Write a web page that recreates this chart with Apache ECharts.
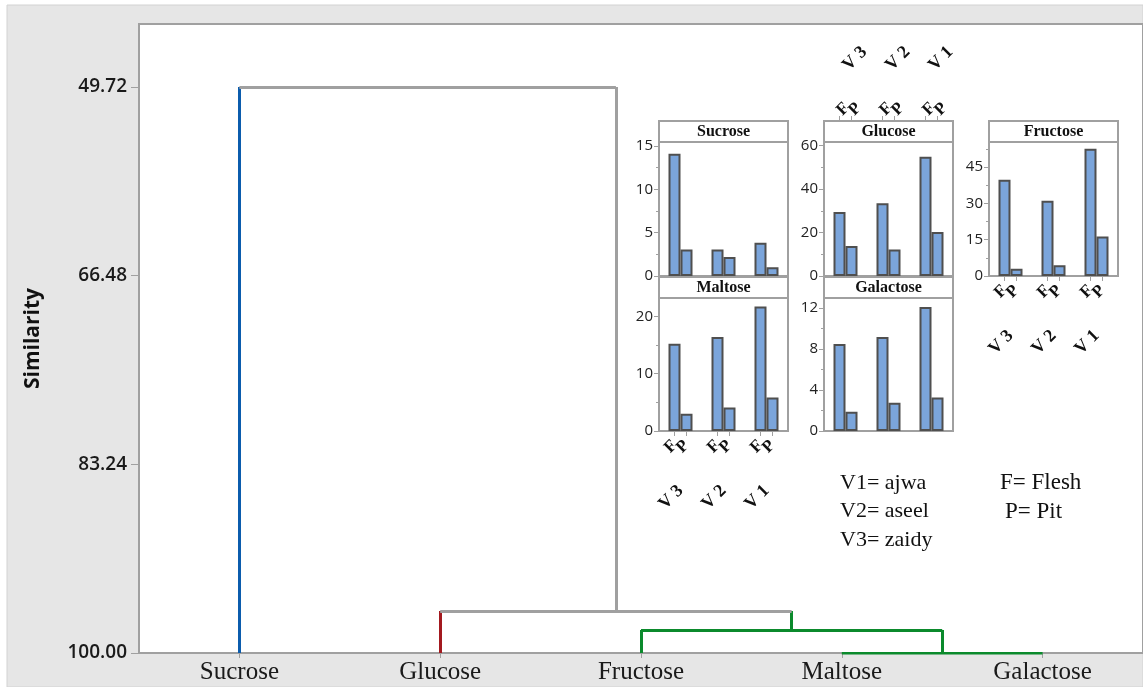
<!DOCTYPE html>
<html>
<head>
<meta charset="utf-8">
<title>Dendrogram - Similarity</title>
<script src="https://cdn.jsdelivr.net/npm/echarts@6/dist/echarts.min.js"></script>
<style>
	html, body { margin: 0; padding: 0; background: #fff; }
	#main { width: 1143px; height: 687px; }
</style>
</head>
<body>
<div id="main"></div>
<script>
// dendrogram data
var leaves = ['Sucrose', 'Glucose', 'Fructose', 'Maltose', 'Galactose'];
var leafCluster = [0, 1, 2, 2, 2];
var clusterColors = ['#0b5cad', '#a3191f', '#0b8a2c'];
var linkGray = '#a0a0a0';
// children of each merge, ids >= 5 are earlier merges
var merges = [[3, 4], [2, 5], [1, 6], [0, 7]];
var mergeLevels = [100, 97.95, 96.27, 49.72];
var simTicks = [49.72, 66.48, 83.24, 100.00];

// inset bar charts, order V3, V2, V1
var varieties = ['V3', 'V2', 'V1'];
var parts = ['F', 'P'];
var sucroseF = [14.1, 3.05, 3.85];
var sucroseP = [3.05, 2.2, 1.0];
var glucoseF = [29.5, 33.5, 54.9];
var glucoseP = [13.8, 12.2, 20.3];
var fructoseF = [39.8, 31.1, 52.6];
var fructoseP = [3.0, 4.4, 16.3];
var maltoseF = [15.2, 16.4, 21.7];
var maltoseP = [3.0, 4.1, 5.85];
var galactoseF = [8.48, 9.16, 12.1];
var galactoseP = [1.87, 2.75, 3.26];

var legendLeft = ['V1= ajwa', 'V2= aseel', 'V3= zaidy'];
var legendRight = ['F= Flesh', 'P= Pit'];

var serif = '"Liberation Serif", "Times New Roman", serif';
var sans = '"Open Sans", "Noto Sans", sans-serif';

// build dendrogram segments
var nodes = [];
leaves.forEach(function (name, i) {
	nodes.push({x: i, h: 100, color: clusterColors[leafCluster[i]]});
});
var segs = [];
merges.forEach(function (m, k) {
	var a = nodes[m[0]], b = nodes[m[1]];
	var h = mergeLevels[k];
	var c = (a.color === b.color && a.color !== linkGray) ? a.color : linkGray;
	if (a.h !== h) segs.push({coords: [[a.x, a.h], [a.x, h]], lineStyle: {color: a.color}});
	if (b.h !== h) segs.push({coords: [[b.x, b.h], [b.x, h]], lineStyle: {color: b.color}});
	segs.push({coords: [[a.x, h], [b.x, h]], lineStyle: {color: c}});
	nodes.push({x: (a.x + b.x) / 2, h: h, color: c});
});

var grids = [{
	left: 139, top: 24, width: 1004, height: 629,
	show: true, backgroundColor: '#fff', borderColor: '#a0a0a0', borderWidth: 2
}];
var xAxes = [{
	type: 'value', gridIndex: 0, min: -0.5, max: 4.5,
	axisLine: {onZero: false, lineStyle: {color: '#a0a0a0', width: 1}},
	axisTick: {customValues: [0, 1, 2, 3, 4], length: 5, lineStyle: {color: '#a0a0a0'}},
	axisLabel: {
		customValues: [0, 1, 2, 3, 4], margin: 7,
		formatter: function (v) { return leaves[Math.round(v)]; },
		fontFamily: serif, fontSize: 25, color: '#1a1a1a'
	},
	splitLine: {show: false}
}];
var yAxes = [{
	type: 'value', gridIndex: 0, inverse: true, min: 44.12, max: 100,
	name: 'Similarity', nameLocation: 'middle', nameGap: 95,
	nameTextStyle: {fontFamily: sans, fontSize: 21, fontWeight: 'bold', color: '#111'},
	axisLine: {show: true, onZero: false, lineStyle: {color: '#a0a0a0', width: 1}},
	axisTick: {show: true, customValues: simTicks, length: 8, lineStyle: {color: '#a0a0a0'}},
	axisLabel: {
		customValues: simTicks, margin: 12,
		formatter: function (v) { return v.toFixed(2); },
		fontFamily: sans, fontSize: 19, fontWeight: 600, color: '#1a1a1a'
	},
	splitLine: {show: false}
}];
var series = [{
	type: 'lines', coordinateSystem: 'cartesian2d', xAxisIndex: 0, yAxisIndex: 0,
	silent: true, z: 3,
	lineStyle: {width: 3, opacity: 1, curveness: 0},
	data: segs
}];

var PW = 129, STRIP = 21, BARW = 12;
var panels = [
	{name: 'Sucrose', F: sucroseF, P: sucroseP, max: 15.46, step: 5, left: 659, top: 142, h: 134, side: null},
	{name: 'Glucose', F: glucoseF, P: glucoseP, max: 61.7, step: 20, left: 824, top: 142, h: 134, side: 'top'},
	{name: 'Fructose', F: fructoseF, P: fructoseP, max: 55.4, step: 15, left: 989, top: 142, h: 134, side: 'bottom'},
	{name: 'Maltose', F: maltoseF, P: maltoseP, max: 23.2, step: 10, left: 659, top: 298, h: 133, side: 'bottom'},
	{name: 'Galactose', F: galactoseF, P: galactoseP, max: 12.97, step: 4, left: 824, top: 298, h: 133, side: null}
];
var graphics = [{
	type: 'rect', z: -100, shape: {x: 7, y: 5, width: 1136, height: 682},
	style: {fill: '#e6e6e6', stroke: '#d2d2d2', lineWidth: 1}
}];

// offset of F / P bar centres from group centre, in category units
var off = (BARW / 2) / (PW / 3);

var axisGray = {color: '#a0a0a0', width: 2};
panels.forEach(function (p, i) {
	var gi = i + 1;
	grids.push({
		left: p.left, top: p.top, width: PW, height: p.h,
		show: true, backgroundColor: '#fff', borderColor: '#a0a0a0', borderWidth: 2
	});
	var yTicks = [];
	for (var t = 0; t <= p.max; t += p.step) yTicks.push(t);
	var side = p.side || 'bottom';
	var top = side === 'top';
	var offs = top ? STRIP : 0;
	var catIdx = xAxes.length;
	xAxes.push({
		type: 'category', gridIndex: gi, data: varieties, position: side, offset: offs,
		axisLine: {show: false, onZero: false}, axisTick: {show: false},
		axisLabel: {
			show: !!p.side, rotate: top ? -45 : 45, margin: top ? 53 : 57, interval: 0,
			formatter: function (v) { return v.charAt(0) + ' ' + v.charAt(1); },
			fontFamily: serif, fontSize: 18, fontWeight: 'bold', color: '#111'
		}
	});
	// one label axis for the F bars and one for the P bars
	parts.forEach(function (part, k) {
		var ticks = varieties.map(function (v, j) { return j + (k === 0 ? -off : off); });
		xAxes.push({
			type: 'value', gridIndex: gi, min: -0.5, max: 2.5, position: side, offset: offs,
			show: !!p.side,
			axisLine: {show: true, onZero: false, lineStyle: axisGray},
			axisTick: {show: true, customValues: ticks, length: 5, lineStyle: {color: '#a0a0a0', width: 1}},
			axisLabel: {
				customValues: ticks, rotate: top ? -45 : 45, margin: top ? 8 : 12,
				formatter: function () { return part; },
				fontFamily: serif, fontSize: 17, fontWeight: 'bold', color: '#111'
			},
			splitLine: {show: false}
		});
	});
	yAxes.push({
		type: 'value', gridIndex: gi, min: 0, max: p.max, interval: p.step,
		axisLine: {show: true, onZero: false, lineStyle: axisGray},
		axisTick: {show: true, customValues: yTicks, length: 5, lineStyle: {color: '#a0a0a0', width: 1}},
		minorTick: {show: true, splitNumber: 2, length: 3, lineStyle: {color: '#a0a0a0'}},
		axisLabel: {customValues: yTicks, margin: 6, fontFamily: sans, fontSize: 15, color: '#222'},
		splitLine: {show: false}
	});
	[['F', p.F], ['P', p.P]].forEach(function (s) {
		series.push({
			type: 'bar', name: p.name + ' ' + s[0], xAxisIndex: catIdx, yAxisIndex: gi,
			data: s[1], barWidth: BARW, barGap: '0%', silent: true,
			itemStyle: {color: '#7ba5db', borderColor: '#4f4f4f', borderWidth: 2}
		});
	});
	// title strip
	graphics.push({
		type: 'rect', z: 10,
		shape: {x: p.left, y: p.top - STRIP, width: PW, height: STRIP},
		style: {fill: '#fff', stroke: '#a0a0a0', lineWidth: 2}
	});
	graphics.push({
		type: 'text', z: 11, x: p.left + PW / 2, y: p.top - STRIP / 2,
		style: {text: p.name, font: 'bold 16px ' + serif, fill: '#111', align: 'center', verticalAlign: 'middle'}
	});
});

legendLeft.forEach(function (t, i) {
	graphics.push({
		type: 'text', x: 840, y: 483 + i * 28.5,
		style: {text: t, font: '22px ' + serif, fill: '#111', verticalAlign: 'middle'}
	});
});
legendRight.forEach(function (t, i) {
	graphics.push({
		type: 'text', x: i === 0 ? 1000 : 1005, y: 483 + i * 28.5,
		style: {text: t, font: '23px ' + serif, fill: '#111', verticalAlign: 'middle'}
	});
});

var myChart = echarts.init(document.getElementById('main'));
myChart.setOption({
	backgroundColor: '#fff',
	animation: false,
	grid: grids,
	xAxis: xAxes,
	yAxis: yAxes,
	series: series,
	graphic: graphics
});
</script>
</body>
</html>
